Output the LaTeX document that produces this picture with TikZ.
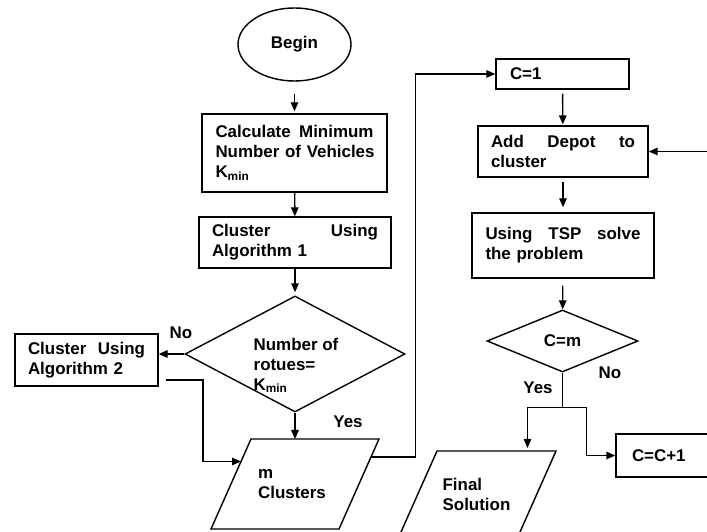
\documentclass[tikz,border=0pt]{standalone}
\usepackage{fontspec}
\setmainfont{Liberation Sans}
\usetikzlibrary{arrows.meta,shapes.geometric,calc}

\begin{document}
\begin{tikzpicture}[line width=1.4bp,
    font=\fontsize{17}{20}\selectfont\bfseries,
    >={Triangle[length=9bp,width=7.5bp]},
    box/.style={draw,rectangle,align=left,inner sep=0pt},
    decision/.style={draw,diamond,inner sep=0pt}]
  \useasboundingbox (0bp,0bp) rectangle (707bp,532bp);
  \clip (0bp,0bp) rectangle (707bp,532bp);
  % left column
  \node (Begin) at (294.5bp,487.5bp) [draw,ellipse,minimum width=113bp,minimum height=73bp,inner sep=0pt] {Begin};
  \node (CalcKmin) at (294.5bp,379.0bp) [box,minimum width=185bp,minimum height=78bp,text width=158bp] {Calculate\hfill Minimum\\\mbox{Number of Vehicles}\\K\textsubscript{min}};
  \node (ClusterAlg1) at (295.0bp,289.5bp) [box,minimum width=192bp,minimum height=51bp,text width=166bp] {Cluster\hfill Using\\Algorithm 1};
  \node (RoutesEqKmin) at (295.0bp,178.0bp) [decision,minimum width=220bp,minimum height=116bp] {};
  \node (RoutesText) at (296.0bp,166.5bp) [align=left] {Number of\\rotues=\\K\textsubscript{min}};
  \node (ClusterAlg2) at (86.5bp,172.0bp) [box,minimum width=143bp,minimum height=52bp,text width=117bp] {Cluster\hfill Using\\Algorithm 2};
  \node (MClusters) at (292.0bp,48.0bp) [align=left] {m\\Clusters};
  \draw (295.0bp,48.0bp) ++(-84bp,-45bp) coordinate (MClustersBL) -- ++(128bp,0) coordinate (MClustersBR)
    -- ++(40bp,90bp) coordinate (MClustersTR) -- ++(-128bp,0) coordinate (MClustersTL) -- cycle;
  % right column
  \node (CEqOne) at (562.5bp,458.0bp) [box,minimum width=133bp,minimum height=30bp,text width=105bp] {C=1};
  \node (AddDepot) at (563.0bp,380.5bp) [box,minimum width=170bp,minimum height=51bp,text width=144bp] {Add\hfill Depot\hfill to\\cluster};
  \node (SolveTSP) at (563.0bp,286.5bp) [box,minimum width=182bp,minimum height=65bp,text width=155bp] {Using\hfill TSP\hfill solve\\the problem};
  \node (CEqM) at (562.5bp,191.0bp) [decision,minimum width=151bp,minimum height=62bp] {C=m};
  \node (FinalSolution) at (476.5bp,38.0bp) [align=left] {Final\\Solution};
  \draw (476.5bp,36.0bp) ++(-79.5bp,-45bp) coordinate (FinalSolutionBL) -- ++(119bp,0) coordinate (FinalSolutionBR)
    -- ++(40bp,90bp) coordinate (FinalSolutionTR) -- ++(-119bp,0) coordinate (FinalSolutionTL) -- cycle;
  \node (CInc) at (668.0bp,76.5bp) [box,minimum width=104bp,minimum height=43bp,text width=72bp] {C=C+1};
  % branch labels
  \node (NoAlg2) at (181.0bp,199.0bp) {No};
  \node (YesClusters) at (348.0bp,110.0bp) {Yes};
  \node (YesFinal) at (538.0bp,144.0bp) {Yes};
  \node (NoInc) at (610.0bp,159.0bp) {No};
  % arrows
  \draw [->,shorten <=12bp,shorten >=2bp] (Begin) -- (CalcKmin);
  \draw [->] (CalcKmin) -- (ClusterAlg1);
  \draw [->,shorten >=3bp] (ClusterAlg1) -- (RoutesEqKmin);
  \draw [->] (RoutesEqKmin.west) -- (RoutesEqKmin.west -| ClusterAlg2.east);
  \draw [->] (RoutesEqKmin.south) -- (RoutesEqKmin.south |- MClustersTL);
  \coordinate (Alg2Out) at (166bp,152bp);
  \coordinate (MClustersIn) at ($(MClustersTL)!0.25!(MClustersBL)$);
  \draw [->] (Alg2Out) -| ([xshift=-38bp]MClustersIn) -- (MClustersIn);
  \coordinate (MClustersOut) at ($(MClustersTR)!0.2!(MClustersBR)$);
  \draw [->] (MClustersOut) -| ([xshift=-80bp]CEqOne.west) -- (CEqOne.west);
  \draw [->,shorten <=4bp,shorten >=1bp] (CEqOne) -- (AddDepot);
  \draw [->,shorten <=4bp,shorten >=5bp] (AddDepot) -- (SolveTSP);
  \draw [->,shorten <=7bp] (SolveTSP) -- (CEqM);
  \coordinate (Split) at ([yshift=-35bp]CEqM.south);
  \draw (CEqM.south) -- (Split);
  \draw [->,shorten >=3bp] (Split) -- ++(-35bp,0) coordinate (YesTurn) -- (YesTurn |- FinalSolutionTL);
  \draw [->] (Split) -- ++(24bp,0) |- (CInc.west);
  \draw [->] (CInc.east) -- ++(15bp,0) |- (AddDepot.east);
\end{tikzpicture}
\end{document}
